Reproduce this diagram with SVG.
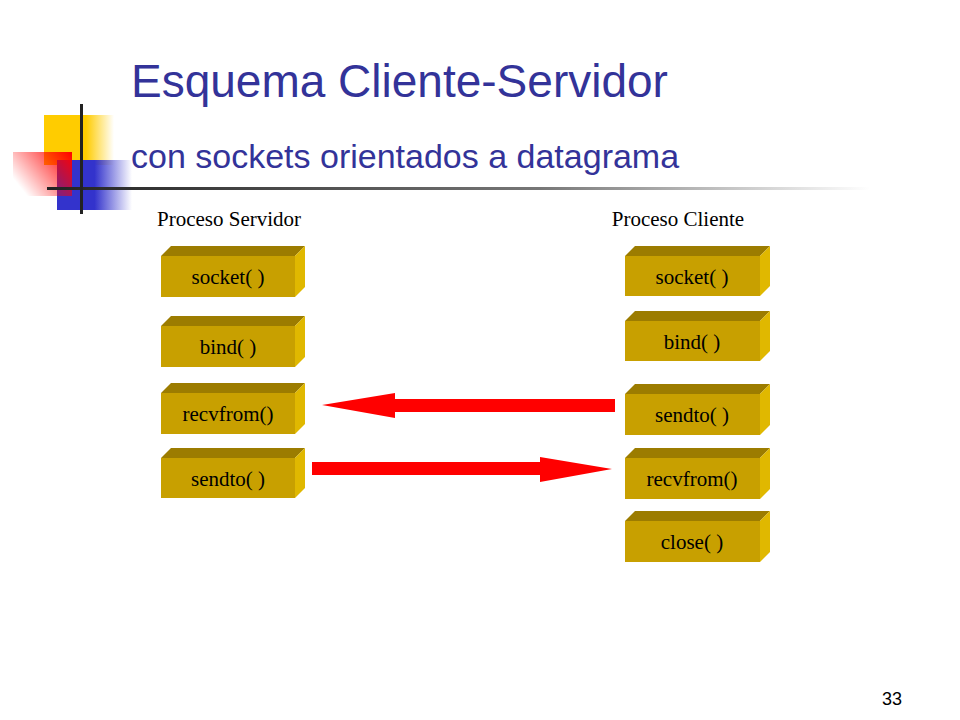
<svg xmlns="http://www.w3.org/2000/svg" width="960" height="720" viewBox="0 0 960 720">
<defs>
<linearGradient id="gy" x1="0" x2="1"><stop offset="0.6" stop-color="#ffcc00"/><stop offset="1" stop-color="#ffcc00" stop-opacity="0"/></linearGradient>
<linearGradient id="gb" x1="0" x2="1"><stop offset="0.5" stop-color="#3333cc"/><stop offset="1" stop-color="#3333cc" stop-opacity="0"/></linearGradient>
<linearGradient id="gr" x1="1" x2="0" y1="0" y2="0.6"><stop offset="0" stop-color="#ff0000"/><stop offset="1" stop-color="#ff0000" stop-opacity="0"/></linearGradient>
<linearGradient id="gl" x1="0" x2="1"><stop offset="0" stop-color="#222"/><stop offset="0.6" stop-color="#777"/><stop offset="1" stop-color="#fff"/></linearGradient>
<style>
.t{font-family:"Liberation Serif",serif;font-size:21px;fill:#000;text-anchor:middle}
.f{fill:#c8a000}.tp{fill:#9c7c00}.sd{fill:#e0b800}
.ar{fill:#ff0000}
</style>
</defs>
<rect width="960" height="720" fill="#fff"/>
<rect x="44" y="115" width="70" height="50" fill="url(#gy)"/>
<rect x="57" y="160" width="75" height="50" fill="url(#gb)"/>
<rect x="13" y="152" width="59" height="44" fill="url(#gr)"/>
<rect x="47" y="187" width="823" height="3" fill="url(#gl)"/>
<rect x="80" y="104" width="3" height="110" fill="#222"/>
<text x="131" y="97" font-family="Liberation Sans,Arial,sans-serif" font-size="46" fill="#333399">Esquema Cliente-Servidor</text>
<text x="131" y="168" font-family="Liberation Sans,Arial,sans-serif" font-size="34" fill="#333399">con sockets orientados a datagrama</text>
<text x="229" y="226" class="t" font-size="22">Proceso Servidor</text>
<text x="678" y="226" class="t" font-size="22">Proceso Cliente</text>
<g id="s-socket" transform="translate(161,246)"><polygon class="tp" points="0,10 10,0 144,0 134,10"/><rect class="f" x="0" y="10" width="134" height="41"/><polygon class="sd" points="134,10 144,0 144,41 134,51"/><text class="t" x="67" y="38">socket( )</text></g>
<g id="s-bind" transform="translate(161,316)"><polygon class="tp" points="0,10 10,0 144,0 134,10"/><rect class="f" x="0" y="10" width="134" height="41"/><polygon class="sd" points="134,10 144,0 144,41 134,51"/><text class="t" x="67" y="38">bind( )</text></g>
<g id="s-recvfrom" transform="translate(161,383)"><polygon class="tp" points="0,10 10,0 144,0 134,10"/><rect class="f" x="0" y="10" width="134" height="41"/><polygon class="sd" points="134,10 144,0 144,41 134,51"/><text class="t" x="67" y="38">recvfrom()</text></g>
<g id="s-sendto" transform="translate(161,448)"><polygon class="tp" points="0,10 10,0 144,0 134,10"/><rect class="f" x="0" y="10" width="134" height="40"/><polygon class="sd" points="134,10 144,0 144,40 134,50"/><text class="t" x="67" y="38">sendto( )</text></g>
<g id="c-socket" transform="translate(625,246)"><polygon class="tp" points="0,10 10,0 145,0 135,10"/><rect class="f" x="0" y="10" width="135" height="40"/><polygon class="sd" points="135,10 145,0 145,40 135,50"/><text class="t" x="67" y="38">socket( )</text></g>
<g id="c-bind" transform="translate(625,311)"><polygon class="tp" points="0,10 10,0 145,0 135,10"/><rect class="f" x="0" y="10" width="135" height="40"/><polygon class="sd" points="135,10 145,0 145,40 135,50"/><text class="t" x="67" y="38">bind( )</text></g>
<g id="c-sendto" transform="translate(625,384)"><polygon class="tp" points="0,10 10,0 145,0 135,10"/><rect class="f" x="0" y="10" width="135" height="41"/><polygon class="sd" points="135,10 145,0 145,41 135,51"/><text class="t" x="67" y="38">sendto( )</text></g>
<g id="c-recvfrom" transform="translate(625,448)"><polygon class="tp" points="0,10 10,0 145,0 135,10"/><rect class="f" x="0" y="10" width="135" height="41"/><polygon class="sd" points="135,10 145,0 145,41 135,51"/><text class="t" x="67" y="38">recvfrom()</text></g>
<g id="c-close" transform="translate(625,511)"><polygon class="tp" points="0,10 10,0 145,0 135,10"/><rect class="f" x="0" y="10" width="135" height="41"/><polygon class="sd" points="135,10 145,0 145,41 135,51"/><text class="t" x="67" y="38">close( )</text></g>
<g id="connectors">
<polygon class="ar" points="615,399 395,399 395,393 322,405 395,418 395,412 615,412"/>
<polygon class="ar" points="312,462 540,462 540,457 612,469 540,482 540,475 312,475"/>
</g>
<text x="892" y="705" font-family="Liberation Sans,Arial,sans-serif" font-size="18" text-anchor="middle">33</text>
</svg>
